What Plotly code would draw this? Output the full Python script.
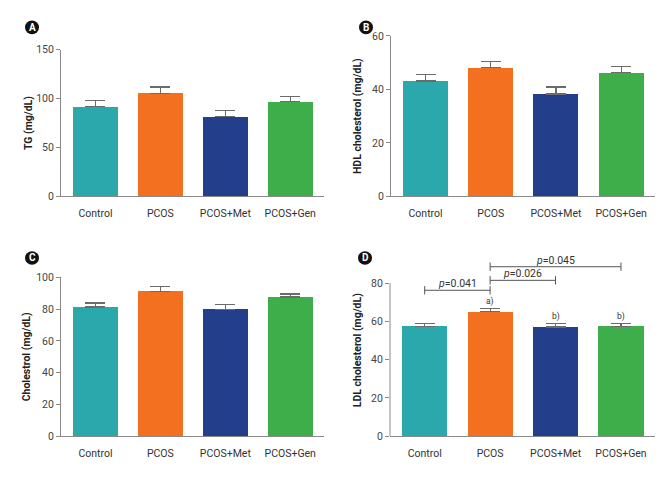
import plotly.graph_objects as go

W, H = 667, 477

groups = ["Control", "PCOS", "PCOS+Met", "PCOS+Gen"]
bar_colors = ["#2AA8AB", "#F37021", "#233F8B", "#3DAE4A"]

tg_mean = [92, 105.5, 81.5, 97]
tg_sem = [6, 6.5, 6.5, 5]

hdl_mean = [43.1, 48.2, 38.3, 46.3]
hdl_sem = [2.5, 2.1, 2.6, 2.1]

chol_mean = [81.4, 91.2, 80.0, 87.6]
chol_sem = [2.5, 2.9, 2.9, 2.0]

ldl_mean = [57.5, 65.1, 57.1, 57.5]
ldl_sem = [1.3, 1.8, 2.0, 1.6]
ldl_marks = ["", "a)", "b)", "b)"]

# p-value brackets for panel D: (from group, to group, height, label)
brackets = [(0, 1, 76.3, "0.041"), (1, 2, 81.5, "0.026"), (1, 3, 88.6, "0.045")]

FONT = "Roboto"
AX_COLOR = "#8a8a8a"


def px_x(v):
    return v / W


def px_y(v):
    return 1 - v / H


# panel geometry in pixels: (x0, x1, y_top, y_bottom)
panels = [
    dict(name="A", mean=tg_mean, sem=tg_sem, title="TG (mg/dL)", rng=[0, 150], dtick=50,
         box=(61, 324, 45, 195.7), badge=(32, 22), standoff=1),
    dict(name="B", mean=hdl_mean, sem=hdl_sem, title="HDL cholesterol (mg/dL)", rng=[0, 60], dtick=20,
         box=(391, 655, 30.7, 195.7), badge=(366, 22), standoff=8),
    dict(name="C", mean=chol_mean, sem=chol_sem, title="Cholestrol (mg/dL)", rng=[0, 100], dtick=20,
         box=(61, 324, 279, 442.3), badge=(32, 259), standoff=3),
    dict(name="D", mean=ldl_mean, sem=ldl_sem, title="LDL cholesterol (mg/dL)", rng=[0, 90], dtick=20,
         box=(390, 655, 265.3, 442.3), badge=(365, 259), standoff=7),
]

fig = go.Figure()
xs = list(range(len(groups)))
layout = {}
shapes = []
annotations = []

for i, p in enumerate(panels, start=1):
    xa = "x" if i == 1 else f"x{i}"
    ya = "y" if i == 1 else f"y{i}"
    fig.add_trace(go.Bar(
        x=xs, y=p["mean"], xaxis=xa, yaxis=ya,
        marker=dict(color=bar_colors, line=dict(width=0)),
        width=0.69, showlegend=False,
        error_y=dict(type="data", symmetric=False, array=p["sem"],
                     arrayminus=[0] * len(groups), color="#6b6b6b",
                     thickness=1.2, width=10),
    ))
    x0, x1, yt, yb = p["box"]
    is_d = p["name"] == "D"
    layout["xaxis" if i == 1 else f"xaxis{i}"] = dict(
        domain=[px_x(x0), px_x(x1)], anchor=ya, range=[-0.53, 3.52],
        tickvals=xs, ticktext=groups, showline=True, linecolor=AX_COLOR,
        linewidth=1, ticks="outside", ticklen=7, tickcolor="rgba(0,0,0,0)",
        showgrid=False, zeroline=False,
        tickfont=dict(family=FONT, size=10.5, color="#333"),
    )
    layout["yaxis" if i == 1 else f"yaxis{i}"] = dict(
        domain=[px_y(yb), px_y(yt)], anchor=xa, range=p["rng"],
        tickmode="array",
        tickvals=list(range(0, (80 if is_d else p["rng"][1]) + 1, p["dtick"])),
        showline=not is_d, linecolor=AX_COLOR, linewidth=1,
        ticks="outside", ticklen=4, tickcolor=AX_COLOR, showgrid=False,
        zeroline=False, tickfont=dict(family=FONT, size=10.5, color="#444"),
        title=dict(text=f"<b>{p['title']}</b>", standoff=p["standoff"],
                   font=dict(family=FONT, size=10.5, color="#222")),
    )
    # panel badge
    bx, by = p["badge"]
    shapes.append(dict(type="circle", xref="paper", yref="paper",
                       x0=px_x(bx - 7), x1=px_x(bx + 7), y0=px_y(by + 7), y1=px_y(by - 7),
                       fillcolor="#111", line=dict(width=0)))
    annotations.append(dict(xref="paper", yref="paper", x=px_x(bx), y=px_y(by),
                            xanchor="center", yanchor="middle",
                            text=f"<b>{p['name']}</b>", showarrow=False,
                            font=dict(family=FONT, size=10, color="white")))

# panel D: axis line only up to 80
shapes.append(dict(type="line", xref="paper", yref="y4",
                   x0=px_x(390), x1=px_x(390), y0=0, y1=80,
                   line=dict(color=AX_COLOR, width=1)))

# significance letters
for j, m in enumerate(ldl_marks):
    if m:
        annotations.append(dict(xref="x4", yref="y4", x=j, y=ldl_mean[j] + ldl_sem[j],
                                text=m, showarrow=False, yanchor="bottom", yshift=-1,
                                font=dict(family=FONT, size=8.5, color="#333")))

# brackets
for a, b, h, lab in brackets:
    fig.add_trace(go.Scatter(
        x=[a, b], y=[h, h], xaxis="x4", yaxis="y4", mode="lines+markers",
        line=dict(color="#555", width=1),
        marker=dict(symbol="line-ns", size=6, line=dict(color="#555", width=1)),
        cliponaxis=False, showlegend=False, hoverinfo="skip",
    ))
    annotations.append(dict(xref="x4", yref="y4", x=(a + b) / 2, y=h,
                            text=f"<i>p</i>={lab}", showarrow=False, yanchor="bottom",
                            yshift=-2, font=dict(family=FONT, size=10.5, color="#333")))

fig.update_layout(
    width=W, height=H, margin=dict(l=0, r=0, t=0, b=0),
    paper_bgcolor="white", plot_bgcolor="white",
    shapes=shapes, annotations=annotations, bargap=0,
    **layout,
)

fig.write_html("out.html", config={"displayModeBar": False},
               post_script="document.body.style.margin='0';")
